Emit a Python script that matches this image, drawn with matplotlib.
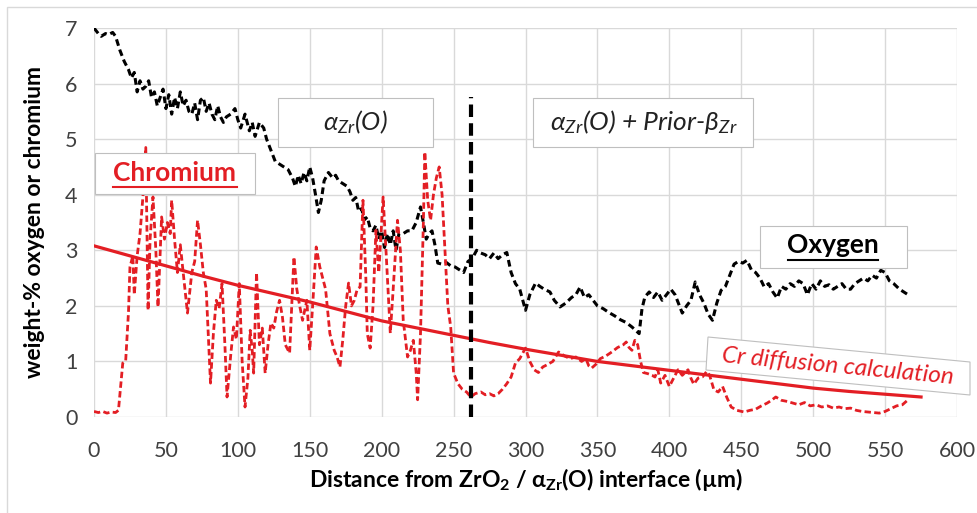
import matplotlib
matplotlib.use("Agg")
import matplotlib.pyplot as plt
from matplotlib.patches import Rectangle, Polygon

plt.rcParams['font.family'] = ['Lato', 'DejaVu Sans']
plt.rcParams['mathtext.fontset'] = 'custom'
plt.rcParams['mathtext.rm'] = 'Lato'
plt.rcParams['mathtext.it'] = 'Lato:italic'
plt.rcParams['mathtext.bf'] = 'Lato:bold'

RED = "#e31e24"
GRID = "#d9d9d9"

# oxygen profile (wt-%)
ox_x = [0, 3, 5, 8, 10, 13, 15, 18, 21, 24, 26, 28, 30, 32, 34, 36, 38, 40, 42, 44, 46, 48, 50, 52, 54, 56, 58,
        60, 62, 64, 66, 68, 70, 72, 74, 76, 78, 80, 82, 84, 86, 88, 90, 92, 95, 98, 100, 102, 105, 108, 110, 112,
        115, 118, 120, 123, 126, 129, 132, 135, 138, 140, 142, 144, 146, 148, 150, 152, 154, 156, 158, 160, 163,
        166, 168, 170, 173, 176, 178, 180, 182, 184, 186, 188, 190, 192, 194, 196, 198, 200, 202, 204, 206, 208,
        210, 212, 215, 218, 221, 224, 227, 229, 231, 233, 235, 237, 239, 242, 245, 248, 251, 254, 257, 260, 263,
        266, 269, 272, 275, 278, 281, 284, 287, 290, 293, 296, 300, 303, 307, 310, 313, 317, 320, 324, 328, 332,
        335, 338, 341, 344, 347, 350, 354, 358, 362, 366, 370, 374, 377, 379, 381, 383, 386, 389, 392, 395, 398,
        401, 404, 407, 409, 412, 415, 418, 421, 424, 427, 430, 433, 436, 439, 442, 445, 448, 451, 454, 457, 460,
        463, 466, 469, 472, 475, 478, 481, 484, 487, 490, 493, 496, 499, 502, 505, 508, 511, 514, 517, 520, 523,
        526, 529, 532, 535, 538, 541, 544, 547, 550, 553, 556, 560, 563, 566]
ox_y = [7.0, 6.9, 6.85, 6.9, 6.88, 6.92, 6.85, 6.6, 6.4, 6.25, 6.1, 6.2, 5.85, 6.05, 5.9, 5.95, 6.05, 5.75, 5.85,
        5.6, 5.75, 5.9, 5.55, 5.8, 5.45, 5.75, 5.55, 5.85, 5.6, 5.7, 5.5, 5.45, 5.65, 5.35, 5.7, 5.75, 5.5, 5.65,
        5.45, 5.35, 5.6, 5.4, 5.3, 5.4, 5.45, 5.55, 5.35, 5.2, 5.45, 5.15, 5.3, 5.05, 5.3, 5.2, 5.0, 4.8, 4.6,
        4.55, 4.5, 4.45, 4.3, 4.15, 4.35, 4.2, 4.4, 4.25, 4.5, 4.3, 4.0, 3.68, 3.9, 4.25, 4.4, 4.3, 4.35, 4.25,
        4.2, 4.15, 4.05, 3.9, 3.95, 3.7, 3.75, 3.55, 3.6, 3.4, 3.35, 3.45, 3.2, 3.35, 3.05, 3.3, 3.1, 3.35, 3.0,
        3.3, 3.3, 3.35, 3.35, 3.5, 3.78, 3.5, 3.2, 3.3, 3.35, 3.1, 2.77, 2.75, 2.78, 2.72, 2.7, 2.65, 2.6, 2.8,
        2.85, 3.0, 2.95, 2.92, 2.85, 2.95, 2.85, 2.92, 2.96, 2.6, 2.4, 2.3, 1.92, 2.2, 2.41, 2.35, 2.3, 2.25, 2.1,
        1.98, 2.05, 2.15, 2.2, 2.34, 2.15, 2.2, 2.1, 2.0, 1.95, 1.88, 1.82, 1.75, 1.7, 1.62, 1.55, 1.5, 1.95, 2.16,
        2.25, 2.15, 2.25, 2.1, 2.2, 2.3, 2.2, 2.0, 1.87, 2.0, 2.1, 2.43, 2.2, 2.05, 1.85, 1.74, 2.05, 2.28, 2.35,
        2.55, 2.75, 2.8, 2.77, 2.82, 2.65, 2.6, 2.5, 2.34, 2.4, 2.25, 2.14, 2.35, 2.3, 2.4, 2.35, 2.45, 2.4, 2.2,
        2.4, 2.3, 2.45, 2.35, 2.38, 2.3, 2.35, 2.4, 2.3, 2.3, 2.4, 2.45, 2.5, 2.45, 2.55, 2.5, 2.64, 2.6, 2.45,
        2.4, 2.3, 2.25, 2.2]

# chromium profile (wt-%)
cr_x = [0, 3, 6, 9, 12, 15, 17, 19, 20, 22, 24, 25, 27, 28, 30, 32, 34, 36, 37.6, 39, 41, 43, 44.5, 47, 49, 51,
        53, 54, 56, 58, 60, 62, 65, 68, 70, 72, 74, 76, 78, 81, 83, 85, 87, 89, 91, 92.5, 95, 97, 99, 101, 103,
        105, 107, 108.6, 110, 111, 113, 115, 117, 119, 121, 123, 125, 127, 129, 131, 133, 136, 139, 141, 143, 145,
        148, 150, 152, 154.5, 157, 159, 161, 164, 167, 169, 171, 173, 175, 177, 179, 181, 183, 185, 187, 189, 190,
        192, 194, 196, 198, 201, 203, 206, 208, 211, 213, 215, 218, 220, 222, 224, 225, 227, 229, 230, 232, 234,
        236, 238, 240, 242, 244, 246, 248, 250, 253, 256, 259, 262, 265, 269, 272, 275, 278, 281, 284, 287, 290,
        293, 296, 300, 303, 306, 309, 312, 315, 319, 323, 327, 331, 335, 339, 342, 344, 346, 349, 352, 356, 360,
        364, 368, 370, 372, 374, 376, 378, 380, 382, 385, 388, 390, 392, 394, 397, 400, 403, 406, 409, 411, 413,
        415, 417, 420, 423, 426, 428, 431, 434, 437, 440, 443, 447, 452, 456, 460, 464, 468, 471, 474, 478, 482,
        486, 490, 494, 498, 502, 506, 510, 514, 518, 522, 526, 530, 534, 538, 542, 546, 550, 554, 558, 562, 566]
cr_y = [0.1, 0.08, 0.1, 0.07, 0.09, 0.08, 0.12, 0.7, 0.97, 1.0, 1.9, 2.7, 2.9, 2.2, 2.9, 3.3, 3.96, 4.85, 1.92,
        3.2, 3.96, 3.0, 1.98, 3.6, 3.2, 3.5, 3.3, 3.9, 3.2, 2.6, 3.1, 2.6, 1.87, 2.6, 2.8, 3.54, 3.1, 2.6, 2.3,
        0.61, 1.5, 2.1, 1.95, 2.4, 1.3, 0.36, 1.1, 1.62, 1.4, 2.4, 1.0, 0.18, 0.7, 1.56, 1.2, 0.79, 2.6, 1.3,
        1.6, 0.79, 1.3, 1.69, 1.6, 1.9, 2.1, 1.8, 1.3, 1.15, 2.88, 2.3, 2.0, 1.74, 2.1, 1.2, 2.0, 3.06, 2.7, 2.5,
        2.3, 1.5, 1.2, 1.08, 0.9, 1.4, 2.0, 2.41, 2.0, 2.1, 2.3, 2.34, 3.9, 2.5, 1.5, 1.24, 2.0, 3.36, 2.6, 3.96,
        3.0, 1.51, 2.3, 3.54, 3.0, 1.74, 1.08, 1.2, 1.38, 0.8, 0.31, 1.5, 3.5, 4.77, 3.9, 3.54, 4.0, 4.3, 4.5,
        4.0, 3.0, 2.0, 1.62, 0.79, 0.6, 0.5, 0.45, 0.36, 0.42, 0.45, 0.4, 0.42, 0.38, 0.42, 0.5, 0.6, 0.72, 0.97,
        1.05, 1.24, 1.0, 0.85, 0.8, 0.9, 0.94, 1.0, 1.17, 1.1, 1.05, 1.08, 1.0, 1.05, 0.92, 0.88, 0.95, 1.05,
        1.1, 1.17, 1.25, 1.3, 1.35, 1.25, 1.2, 1.38, 1.3, 1.0, 0.8, 0.78, 0.75, 0.72, 0.85, 0.61, 0.75, 0.55,
        0.7, 0.85, 0.75, 0.8, 0.85, 0.7, 0.59, 0.7, 0.72, 0.82, 0.75, 0.49, 0.45, 0.55, 0.35, 0.18, 0.12, 0.09,
        0.12, 0.14, 0.2, 0.25, 0.3, 0.36, 0.3, 0.28, 0.25, 0.22, 0.26, 0.2, 0.22, 0.18, 0.2, 0.16, 0.18, 0.15,
        0.16, 0.12, 0.1, 0.09, 0.08, 0.07, 0.1, 0.15, 0.2, 0.22, 0.31]

# calculated Cr diffusion profile
calc_x = [0, 25, 50, 75, 100, 125, 150, 175, 200, 225, 250, 275, 300, 325, 350, 375, 400, 425, 450, 475, 500,
          525, 550, 575]
calc_y = [3.08, 2.90, 2.72, 2.54, 2.37, 2.22, 2.07, 1.90, 1.73, 1.60, 1.47, 1.34, 1.22, 1.11, 1.00, 0.92, 0.84,
          0.76, 0.68, 0.60, 0.52, 0.46, 0.41, 0.36]

boundary_x = 262
boundary_top = 5.75

x_ticks = [0, 50, 100, 150, 200, 250, 300, 350, 400, 450, 500, 550, 600]
y_ticks = [0, 1, 2, 3, 4, 5, 6, 7]

W, H = 978, 513
fig = plt.figure(figsize=(W / 100, H / 100), dpi=100)
ax = fig.add_axes([94 / W, 1 - 417 / H, (957 - 94) / W, (417 - 28) / H])


def fig_box(x0, y0, x1, y1):
    # pixel box (top-left origin) -> figure-fraction rectangle
    return Rectangle((x0 / W, 1 - y1 / H), (x1 - x0) / W, (y1 - y0) / H, transform=fig.transFigure,
                     facecolor="white", edgecolor="#bfbfbf", linewidth=0.8, zorder=5)


# chart area border
fig.patches.append(Rectangle((7 / W, -0.01), 1.02, 1 - 7 / H + 0.01, transform=fig.transFigure,
                             facecolor="none", edgecolor=GRID, linewidth=1))

ax.plot(ox_x, ox_y, color="black", linestyle=(0, (2.2, 1.3)), linewidth=2.2)
ax.plot(cr_x, cr_y, color=RED, linestyle=(0, (2.3, 1.2)), linewidth=2.0)
ax.plot(calc_x, calc_y, color=RED, linewidth=2.3)
ax.plot([boundary_x, boundary_x], [0, boundary_top], color="black", linestyle=(0, (3, 1.5)), linewidth=3)

ax.set_xlim(0, 600)
ax.set_ylim(0, 7)
ax.set_xticks(x_ticks)
ax.set_yticks(y_ticks)
ax.grid(True, color=GRID, linewidth=1)
ax.set_axisbelow(True)
for side in ["top", "right", "bottom", "left"]:
    ax.spines[side].set_visible(False)
ax.tick_params(axis="both", length=0, labelsize=15.5, colors="#404040")
ax.tick_params(axis="x", pad=17)
ax.tick_params(axis="y", pad=12)

ax.set_ylabel("weight-% oxygen or chromium", fontsize=16.5, fontweight="bold", labelpad=14)
ax.set_xlabel(r"Distance from ZrO$_\mathbf{2}$ / α$_\mathbf{Zr}$(O) interface (µm)", fontsize=16.5,
              fontweight="bold", labelpad=4)

# text boxes
fig.patches.append(fig_box(95, 153, 255, 194))
fig.text(175 / W, 1 - 173 / H, "Chromium", color=RED, fontsize=19, fontweight="bold",
         ha="center", va="center", zorder=6)
fig.lines.append(plt.Line2D([113 / W, 237 / W], [1 - 187 / H, 1 - 187 / H], transform=fig.transFigure,
                            color=RED, linewidth=1.5, zorder=6))

fig.patches.append(fig_box(278, 98, 433, 147))
fig.text(355 / W, 1 - 122 / H, r"α$_{Zr}$(O)", fontsize=18.5, style="italic", color="#222222",
         ha="center", va="center", zorder=6)

fig.patches.append(fig_box(533, 98, 753, 147))
fig.text(644 / W, 1 - 122 / H, r"α$_{Zr}$(O) + Prior-β$_{Zr}$", fontsize=19, style="italic", color="#222222",
         ha="center", va="center", zorder=6)

fig.patches.append(fig_box(760, 226, 907, 268))
fig.text(833 / W, 1 - 245 / H, "Oxygen", fontsize=19, fontweight="bold", color="black",
         ha="center", va="center", zorder=6)
fig.lines.append(plt.Line2D([788 / W, 878 / W], [1 - 260 / H, 1 - 260 / H], transform=fig.transFigure,
                            color="black", linewidth=1.5, zorder=6))

corners = [(708, 337), (970, 362), (970, 395), (706, 370)]
fig.patches.append(Polygon([(px / W, 1 - py / H) for px, py in corners], closed=True, transform=fig.transFigure,
                           facecolor="white", edgecolor="#bfbfbf", linewidth=0.8, zorder=5))
fig.text(838 / W, 1 - 366 / H, "Cr diffusion calculation", fontsize=17.5, style="italic", color=RED,
         rotation=-5.4, ha="center", va="center", rotation_mode="anchor", zorder=6)

fig.savefig("out.png", dpi=100)
